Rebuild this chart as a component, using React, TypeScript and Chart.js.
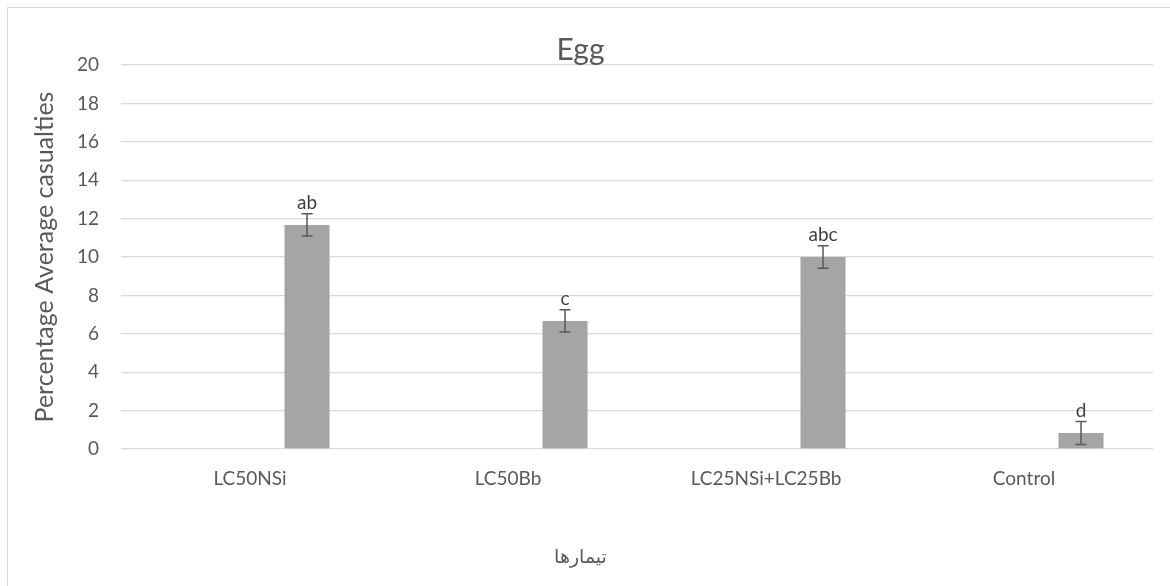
import React, { useEffect, useRef } from "react";
import { Chart, registerables } from "chart.js";

Chart.register(...registerables);

const categories = ["LC50NSi", "LC50Bb", "LC25NSi+LC25Bb", "Control"];
const emptySeries = [0, 0, 0, 0];
const casualties = [11.67, 6.67, 10, 0.83];
const errors = [0.58, 0.58, 0.58, 0.6];
const letters = ["ab", "c", "abc", "d"];

const FONT = "Lato, 'Open Sans', 'DejaVu Sans', sans-serif";
const TEXT = "#595959";

const errorPlugin = {
  id: "errorLetters",
  afterDatasetsDraw(chart: any) {
    const ctx = chart.ctx;
    const meta = chart.getDatasetMeta(1);
    const y = chart.scales.y;
    ctx.save();
    meta.data.forEach((bar: any, i: number) => {
      const x = bar.x;
      const top = y.getPixelForValue(casualties[i] + errors[i]);
      const bot = y.getPixelForValue(casualties[i] - errors[i]);
      ctx.strokeStyle = "#595959";
      ctx.lineWidth = 1.5;
      ctx.beginPath();
      ctx.moveTo(x, top);
      ctx.lineTo(x, bot);
      ctx.moveTo(x - 5.5, top);
      ctx.lineTo(x + 5.5, top);
      ctx.moveTo(x - 5.5, bot);
      ctx.lineTo(x + 5.5, bot);
      ctx.stroke();
      ctx.fillStyle = "#404040";
      ctx.font = `19px ${FONT}`;
      ctx.textAlign = "center";
      ctx.textBaseline = "bottom";
      ctx.fillText(letters[i], x, top - 1);
    });
    ctx.restore();
  },
};

export default function App() {
  const ref = useRef<HTMLCanvasElement>(null);
  useEffect(() => {
    document.documentElement.style.overflow = "hidden";
    document.body.style.overflow = "hidden";
    const chart = new Chart(ref.current as HTMLCanvasElement, {
      type: "bar",
      data: {
        labels: categories,
        datasets: [
          {
            label: "s0",
            data: emptySeries,
            backgroundColor: "#a5a5a5",
            borderWidth: 0,
          },
          {
            label: "Egg",
            data: casualties,
            backgroundColor: "#a5a5a5",
            borderWidth: 0,
          },
        ],
      },
      options: {
        responsive: false,
        animation: false,
        datasets: {
          bar: { categoryPercentage: 0.884, barPercentage: 0.395 },
        },
        layout: { padding: { left: 0, right: 17, top: 0, bottom: 0 } },
        plugins: {
          legend: { display: false },
          tooltip: { enabled: false },
          title: {
            display: true,
            text: "Egg",
            color: TEXT,
            font: { family: FONT, size: 30, weight: "normal", lineHeight: 1 },
            padding: { top: 27, bottom: 0 },
          },
          subtitle: {
            display: true,
            position: "bottom",
            text: "تیمارها",
            color: TEXT,
            font: { family: FONT, size: 19, weight: "normal", lineHeight: 1.2 },
            padding: { top: 0, bottom: 18 },
          },
        },
        scales: {
          x: {
            grid: { display: false, drawTicks: false },
            border: { display: false },
            ticks: {
              color: TEXT,
              font: { family: FONT, size: 19 },
              padding: 18,
              maxRotation: 0,
            },
            afterFit: (s: any) => {
              s.height = 96.2;
            },
          },
          y: {
            min: 0,
            max: 20,
            ticks: {
              stepSize: 2,
              color: TEXT,
              font: { family: FONT, size: 19 },
              padding: 22,
            },
            grid: { color: "#d9d9d9", lineWidth: 1.3, drawTicks: false },
            border: { display: false },
            title: {
              display: true,
              text: "Percentage Average casualties",
              color: TEXT,
              font: { family: FONT, size: 25 },
              padding: { top: 22, bottom: 0 },
            },
            afterFit: (s: any) => {
              s.width = 113;
            },
          },
        },
      },
      plugins: [errorPlugin],
    });
    return () => chart.destroy();
  }, []);
  return (
    <div
      style={{
        position: "absolute",
        left: 7,
        top: 7,
        width: 1200,
        height: 620,
        border: "1px solid #d9d9d9",
        background: "#fff",
      }}
    >
      <canvas ref={ref} width={1162} height={578} style={{ display: "block" }} />
    </div>
  );
}
